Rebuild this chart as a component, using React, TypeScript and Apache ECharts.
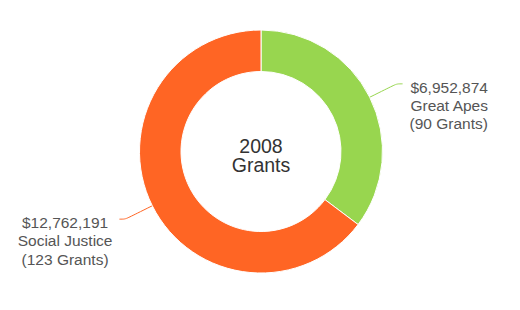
import React, { useEffect, useRef } from "react";
import * as echarts from "echarts";

const categories = ["Great Apes", "Social Justice"];
const amounts = [6952874, 12762191];
const grantCounts = [90, 123];
const colors = ["#98d64f", "#ff6524"];
const centerLines = ["2008", "Grants"];

const fmtMoney = (v: number) => "$" + v.toLocaleString("en-US");

export default function App() {
  const ref = useRef<HTMLDivElement>(null);
  useEffect(() => {
    document.body.style.margin = "0";
    const chart = echarts.init(ref.current!, null, { renderer: "svg" });
    const font = "'Liberation Sans', Arial, Helvetica, sans-serif";
    const centerStyle = {
      fontSize: 19.5,
      fontWeight: "normal",
      color: "#333",
      fontFamily: font,
    };
    chart.setOption({
      animation: false,
      title: centerLines.map((t, i) => ({
        text: t,
        left: 261,
        top: 135.5 + i * 19.6,
        textAlign: "center",
        padding: 0,
        textStyle: centerStyle,
      })),
      series: [
        {
          type: "pie",
          center: [261, 151.5],
          radius: [80, 121.5],
          startAngle: 90,
          clockwise: true,
          itemStyle: { borderColor: "#fff", borderWidth: 1 },
          label: {
            show: true,
            position: "outside",
            distanceToLabelLine: 7,
            fontSize: 15.5,
            lineHeight: 18.4,
            color: "#555",
            fontFamily: font,
            formatter: (p: any) => {
              const i = p.dataIndex;
              return [
                fmtMoney(amounts[i]),
                categories[i],
                "(" + grantCounts[i] + " Grants)",
              ].join("\n");
            },
          },
          labelLayout: (params: any) => {
            const r = params.labelRect;
            const pts = params.labelLinePoints;
            const endY = pts ? pts[pts.length - 1][1] : r.y + r.height / 2;
            const y = endY - 6;
            const common: any = { y, verticalAlign: "top" };
            if (pts) common.labelLinePoints = pts.map((p: number[]) => [p[0], p[1]]);
            if (params.dataIndex === 0) {
              return { ...common, x: r.x + r.width, align: "right" };
            }
            return { ...common, x: r.x + r.width / 2, align: "center" };
          },
          labelLine: {
            show: true,
            length: 30,
            length2: 6,
            smooth: 0.3,
            lineStyle: { width: 1 },
          },
          emphasis: { disabled: true },
          data: categories.map((c, i) => ({
            name: c,
            value: amounts[i],
            itemStyle: { color: colors[i] },
          })),
        },
      ],
    });
    return () => chart.dispose();
  }, []);
  return (
    <div
      ref={ref}
      style={{ position: "absolute", left: 0, top: 0, width: 520, height: 310, background: "#fff" }}
    />
  );
}
